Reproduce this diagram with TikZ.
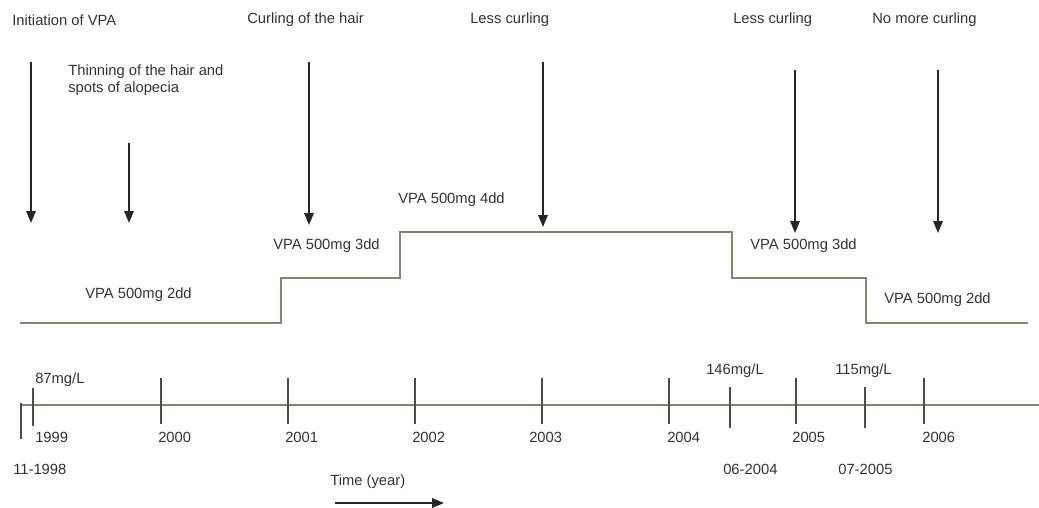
\documentclass[tikz,border=0pt]{standalone}
\usepackage{fontspec}
\setmainfont{Liberation Sans}
\usetikzlibrary{arrows.meta,positioning}

\begin{document}
\begin{tikzpicture}[
    x=0.025cm, y=-0.025cm,
    lbl/.style={font=\fontsize{10.5}{12.5}\selectfont, text=black!80, inner sep=0pt, anchor=west, align=left},
    ev/.style={-{Triangle[length=0.3cm,width=0.24cm]}, line width=0.9pt, black!85},
    dose/.style={line width=1.4pt, draw=brown!25!gray},
    axis/.style={line width=1.6pt, draw=brown!20!gray},
    tick/.style={line width=1.1pt, draw=black!70}
]
\useasboundingbox (0,0) rectangle (1039,507);

% events on top
\node[lbl] (init) at (12,20) {Initiation of VPA};
\node[lbl] (thin) at (68,80) {Thinning of the hair and\\spots of alopecia};
\node[lbl] (curl) at (247,20) {Curling of the hair};
\node[lbl] (less1) at (470,20) {Less curling};
\node[lbl] (less2) at (733,20) {Less curling};
\node[lbl] (nomore) at (872,20) {No more curling};

\coordinate (initA) at (31,62);    \coordinate (initB) at (31,223);
\coordinate (thinA) at (129,143);  \coordinate (thinB) at (129,223);
\coordinate (curlA) at (309,62);   \coordinate (curlB) at (309,225);
\coordinate (less1A) at (543,62);  \coordinate (less1B) at (543,227);
\coordinate (less2A) at (795,70);  \coordinate (less2B) at (795,233);
\coordinate (nomoreA) at (938,70); \coordinate (nomoreB) at (938,233);

\draw[ev] (initA) -- (initB);
\draw[ev] (thinA) -- (thinB);
\draw[ev] (curlA) -- (curlB);
\draw[ev] (less1A) -- (less1B);
\draw[ev] (less2A) -- (less2B);
\draw[ev] (nomoreA) -- (nomoreB);

% dose steps
\draw[dose] (20,323) -- (281,323) -- (281,278) -- (400,278) -- (400,232)
    -- (732,232) -- (732,278) -- (866,278) -- (866,323) -- (1028,323);
\node[lbl] (d2a) at (85,295) {VPA 500mg 2dd};
\node[lbl] (d3a) at (273,246) {VPA 500mg 3dd};
\node[lbl] (d4) at (398,200) {VPA 500mg 4dd};
\node[lbl] (d3b) at (750,246) {VPA 500mg 3dd};
\node[lbl] (d2b) at (884,300) {VPA 500mg 2dd};

% time axis
\draw[axis] (20,405) -- (1039,405);
\draw[tick] (21,403) -- (21,439);
\draw[tick] (33,388) -- (33,426);
\draw[tick] (161,378) -- (161,424);
\draw[tick] (288,378) -- (288,424);
\draw[tick] (415,378) -- (415,424);
\draw[tick] (542,378) -- (542,424);
\draw[tick] (669,378) -- (669,424);
\draw[tick] (730,387) -- (730,428);
\draw[tick] (796,378) -- (796,424);
\draw[tick] (865,387) -- (865,428);
\draw[tick] (924,378) -- (924,424);

\node[lbl] (y1999) at (35,437) {1999};
\node[lbl] (y2000) at (158,437) {2000};
\node[lbl] (y2001) at (285,437) {2001};
\node[lbl] (y2002) at (412,437) {2002};
\node[lbl] (y2003) at (529,437) {2003};
\node[lbl] (y2004) at (667,437) {2004};
\node[lbl] (y2005) at (792,437) {2005};
\node[lbl] (y2006) at (922,437) {2006};

\node[lbl] (start) at (13,469) {11-1998};
\node[lbl] (m0604) at (723,469) {06-2004};
\node[lbl] (m0705) at (838,469) {07-2005};

\node[lbl] (lvl87) at (35,380) {87mg/L};
\node[lbl] (lvl146) at (706,371) {146mg/L};
\node[lbl] (lvl115) at (835,371) {115mg/L};

\node[lbl] (time) at (330,482) {Time (year)};
\coordinate (timeA) at (335,503);
\coordinate (timeB) at (444,503);
\draw[ev] (timeA) -- (timeB);
\end{tikzpicture}
\end{document}
